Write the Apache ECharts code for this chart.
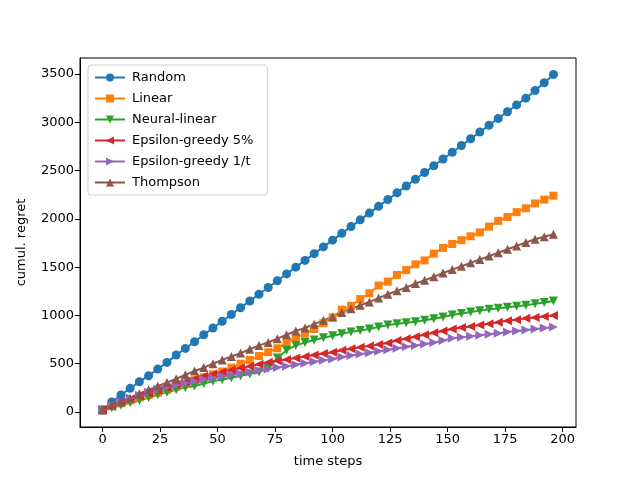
<!DOCTYPE html>
<html>
<head>
<meta charset="utf-8">
<script src="https://cdn.jsdelivr.net/npm/echarts@6/dist/echarts.min.js"></script>
<style>
  html, body { margin: 0; padding: 0; background: #fff; }
  #chart { width: 640px; height: 480px; }
</style>
</head>
<body>
<div id="chart"></div>
<script>
// time steps (every 4th step is marked)
var steps = []
for (var s = 0; s <= 196; s += 4) steps.push(s)

var xTicks = [0, 25, 50, 75, 100, 125, 150, 175, 200]
var yTicks = [0, 500, 1000, 1500, 2000, 2500, 3000, 3500]

var randomRegret = [20, 104, 176, 245, 314, 376, 445, 514, 590, 659, 728, 800, 870, 940, 1010, 1080, 1150, 1220, 1290, 1360,
  1430, 1500, 1570, 1640, 1710, 1780, 1850, 1920, 1990, 2060, 2130, 2200, 2270, 2340, 2410, 2480, 2550, 2620, 2690, 2760,
  2830, 2900, 2970, 3040, 3110, 3180, 3250, 3330, 3410, 3495]
var linearRegret = [20, 60, 90, 120, 150, 175, 200, 230, 260, 290, 330, 360, 390, 420, 460, 500, 540, 580, 620, 660,
  720, 770, 810, 860, 920, 980, 1060, 1100, 1170, 1230, 1310, 1350, 1420, 1470, 1530, 1570, 1640, 1700, 1740, 1780,
  1820, 1860, 1920, 1980, 2020, 2070, 2110, 2160, 2200, 2240]
var neuralRegret = [20, 45, 70, 95, 120, 150, 180, 205, 230, 255, 270, 295, 320, 335, 355, 375, 395, 415, 450, 560,
  640, 690, 720, 745, 770, 790, 810, 830, 845, 860, 880, 900, 915, 925, 935, 950, 965, 985, 1005, 1020,
  1035, 1050, 1065, 1075, 1085, 1095, 1105, 1120, 1135, 1150]
var eps5Regret = [20, 60, 100, 135, 165, 195, 225, 255, 285, 315, 345, 370, 395, 415, 435, 455, 475, 495, 515, 530,
  545, 560, 575, 590, 605, 620, 640, 655, 670, 685, 700, 715, 740, 760, 780, 800, 820, 840, 860, 875,
  885, 900, 915, 930, 945, 955, 970, 980, 990, 1000]
var epsTRegret = [20, 70, 110, 145, 175, 205, 235, 260, 280, 300, 320, 340, 355, 370, 385, 400, 415, 430, 445, 460,
  475, 490, 505, 520, 535, 550, 570, 585, 600, 615, 630, 645, 660, 675, 690, 705, 720, 740, 765, 775,
  785, 795, 805, 815, 830, 840, 850, 860, 870, 880]
var thompsonRegret = [20, 72, 107, 142, 190, 230, 270, 305, 345, 385, 425, 460, 500, 540, 575, 610, 650, 690, 720, 760,
  800, 840, 870, 910, 950, 985, 1030, 1070, 1105, 1140, 1180, 1220, 1255, 1290, 1330, 1365, 1400, 1440, 1475, 1510,
  1545, 1580, 1615, 1650, 1685, 1720, 1755, 1790, 1815, 1840]

var seriesNames = ['Random', 'Linear', 'Neural-linear', 'Epsilon-greedy 5%', 'Epsilon-greedy 1/t', 'Thompson']
var seriesColors = ['#1f77b4', '#ff7f0e', '#2ca02c', '#d62728', '#9467bd', '#8c564b']
var seriesValues = [randomRegret, linearRegret, neuralRegret, eps5Regret, epsTRegret, thompsonRegret]
var symbols = ['circle', 'rect', 'triangle', 'triangle', 'triangle', 'triangle']
var symbolSizes = [9, 8, 9, 9, 9, 9]
var rotations = [0, 0, 180, 90, -90, 0]

var font = 'DejaVu Sans'

function toPairs(vals) {
  var out = []
  for (var i = 0; i < vals.length; i++) out.push([steps[i], vals[i]])
  return out
}

var chart = echarts.init(document.getElementById('chart'))

var series = []
seriesNames.forEach(function (name, i) {
  series.push({
    name: name,
    type: 'line',
    data: toPairs(seriesValues[i]),
    symbol: symbols[i],
    symbolSize: symbolSizes[i],
    symbolRotate: rotations[i],
    showAllSymbol: true,
    color: seriesColors[i],
    lineStyle: { width: 2, color: seriesColors[i] },
    itemStyle: { color: seriesColors[i] },
    emphasis: { disabled: true }
  })
})

var option = {
  animation: false,
  backgroundColor: '#fff',
  textStyle: { fontFamily: font },
  grid: {
    left: 80, right: 64, top: 58, bottom: 53,
    show: true, borderColor: '#000', borderWidth: 1
  },
  legend: {
    orient: 'vertical',
    left: 88, top: 65,
    itemWidth: 30, itemHeight: 10,
    itemGap: 8,
    padding: [6, 14, 6, 6],
    borderColor: '#d0d0d0', borderWidth: 1, borderRadius: 3,
    backgroundColor: 'rgba(255,255,255,0.8)',
    textStyle: { fontFamily: font, fontSize: 13, color: '#000', padding: [0, 0, 0, 2] },
    data: seriesNames
  },
  xAxis: {
    type: 'value',
    min: -9.8, max: 205.8,
    name: 'time steps',
    nameLocation: 'middle',
    nameGap: 28,
    nameTextStyle: { fontFamily: font, fontSize: 13, color: '#000' },
    axisLine: { show: true, onZero: false, lineStyle: { color: '#000', width: 1 } },
    axisTick: { show: true, length: 5, lineStyle: { color: '#000' }, customValues: xTicks },
    axisLabel: { fontFamily: font, fontSize: 13, color: '#000', margin: 6, customValues: xTicks,
      formatter: function (v) { return String(v) } },
    splitLine: { show: false }
  },
  yAxis: {
    type: 'value',
    min: -155, max: 3666,
    name: 'cumul. regret',
    nameLocation: 'middle',
    nameGap: 52,
    nameTextStyle: { fontFamily: font, fontSize: 13, color: '#000' },
    axisLine: { show: true, onZero: false, lineStyle: { color: '#000', width: 1 } },
    axisTick: { show: true, length: 5, lineStyle: { color: '#000' }, customValues: yTicks },
    axisLabel: { fontFamily: font, fontSize: 13, color: '#000', margin: 6, customValues: yTicks,
      formatter: function (v) { return String(v) } },
    splitLine: { show: false }
  },
  series: series
}

chart.setOption(option)
</script>
</body>
</html>
